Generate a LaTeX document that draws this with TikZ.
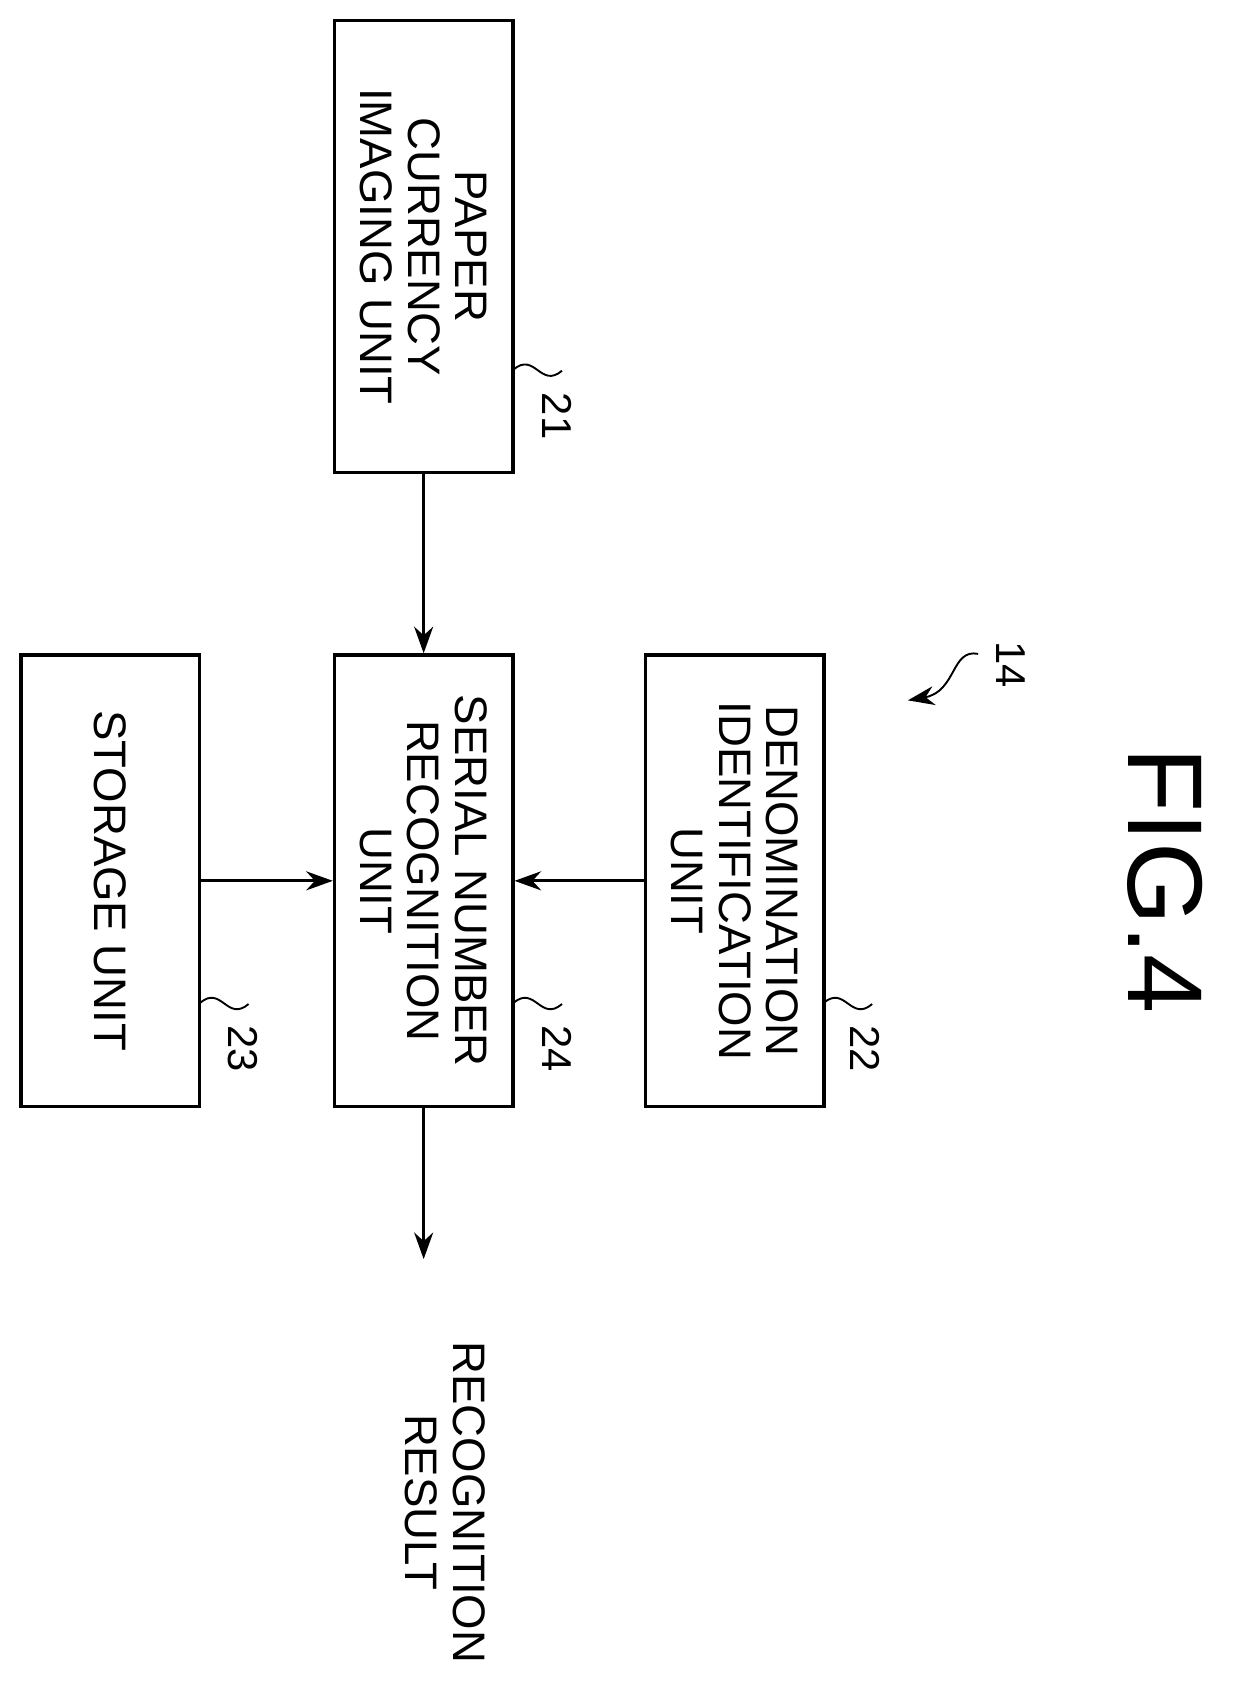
\documentclass[tikz,border=0pt]{standalone}
\usepackage{fontspec}
\setmainfont{Liberation Sans}
\usetikzlibrary{arrows.meta}
\begin{document}
\begin{tikzpicture}[x=0.02cm, y=-0.02cm,
    blk/.style={draw, line width=1.8pt, rotate=-90, align=center,
      minimum width=8.36cm, minimum height=3.3cm, inner sep=0pt,
      font=\fontsize{24}{25}\selectfont},
    arr/.style={-{Stealth[length=14pt,width=10pt]}, line width=1.6pt},
    refn/.style={rotate=-90, font=\fontsize{22}{22}\selectfont}]
      \useasboundingbox (0,0) rectangle (1140,1560);
      \node[blk] (PCI) at (392, 228) {PAPER\\CURRENCY\\IMAGING UNIT};
      \node[blk] (SNR) at (392, 815) {SERIAL NUMBER\\RECOGNITION\\UNIT};
      \node[blk] (DEN) at (680, 815) {DENOMINATION\\IDENTIFICATION\\UNIT};
      \node[blk] (STO) at (102, 815) {STORAGE UNIT};
      \node[rotate=-90, align=center, font=\fontsize{24}{25}\selectfont] (RES) at (412, 1390) {RECOGNITION\\RESULT};
      \node[rotate=-90, font=\fontsize{56}{56}\selectfont] (FIG) at (1078, 815) {FIG.4};
      \coordinate (out) at (392, 1165);
      \draw[arr] (PCI.east) to (SNR.west);
      \draw[arr] (STO.north) to (SNR.south);
      \draw[arr] (DEN.south) to (SNR.north);
      \draw[arr] (SNR.east) to (out);
      % reference numerals
      \node[refn] (n21) at (515, 385) {21};
      \node[refn] (n24) at (515, 970) {24};
      \node[refn] (n22) at (800, 970) {22};
      \node[refn] (n23) at (225, 970) {23};
      \node[refn] (n14) at (935, 615) {14};
      \draw[line width=1pt] (475, 342) .. controls (495, 325) and (500, 360) .. (520, 343);
      \draw[line width=1pt] (475, 928) .. controls (495, 911) and (500, 946) .. (520, 929);
      \draw[line width=1pt] (762, 928) .. controls (782, 911) and (787, 946) .. (807, 929);
      \draw[line width=1pt] (185, 928) .. controls (205, 911) and (210, 946) .. (230, 929);
      \coordinate (p14) at (840, 648);
      \draw[arr, line width=1pt] (905, 605) .. controls (880, 600) and (885, 640) .. (p14);
\end{tikzpicture}
\end{document}
